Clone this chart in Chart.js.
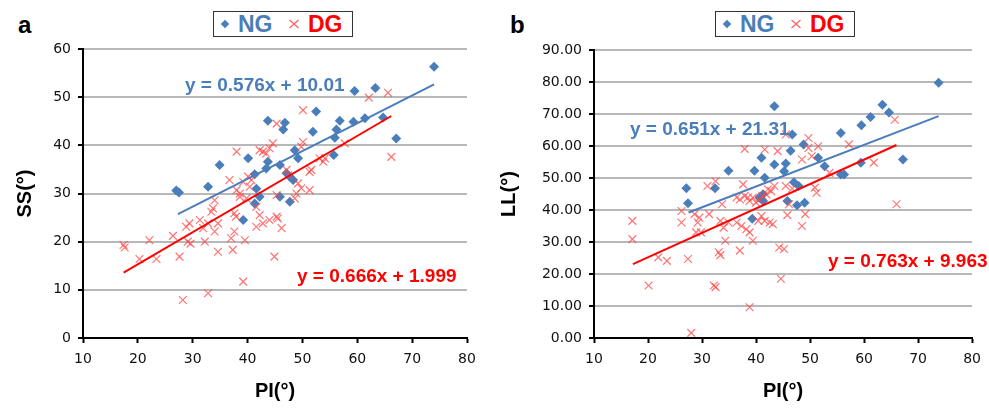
<!DOCTYPE html>
<html>
<head>
<meta charset="utf-8">
<script src="https://cdn.jsdelivr.net/npm/chart.js@4.4.1/dist/chart.umd.min.js"></script>
<style>
  body { margin: 0; width: 989px; height: 408px; overflow: hidden; background: #fff; position: relative;
         font-family: "Liberation Sans", Arial, sans-serif; }
  canvas { position: absolute; top: 0; }
  #chart-a { left: 0; }
  #chart-b { left: 489px; }
  .panel { position: absolute; top: 13px; font-size: 24px; line-height: 24px; font-weight: bold; color: #000; }
  .legend { position: absolute; top: 11px; width: 140px; height: 26px; border: 1px solid #333; box-sizing: border-box; }
  .legend span, .legend div, .legend svg { position: absolute; }
  .legend .txt { top: 0; font-size: 23px; line-height: 24px; font-weight: bold; }
  .legend .dia { left: 8px; top: 9px; width: 6px; height: 6px; background: #4a7ebb; transform: rotate(45deg); }
  .legend .xm { left: 74px; top: 7px; }
</style>
</head>
<body>
<div class="panel" style="left:18px">a</div>
<div class="panel" style="left:510px">b</div>

<div class="legend" style="left:213px">
  <div class="dia"></div><span class="txt" style="left:24px;color:#4a7ebb">NG</span>
  <svg class="xm" width="12" height="10"><path d="M1.5 1L10.5 9M10.5 1L1.5 9" stroke="rgba(255,70,70,0.85)" stroke-width="1.3"/></svg>
  <span class="txt" style="left:94px;color:#ff0000">DG</span>
</div>
<div class="legend" style="left:715px">
  <div class="dia"></div><span class="txt" style="left:24px;color:#4a7ebb">NG</span>
  <svg class="xm" width="12" height="10"><path d="M1.5 1L10.5 9M10.5 1L1.5 9" stroke="rgba(255,70,70,0.85)" stroke-width="1.3"/></svg>
  <span class="txt" style="left:94px;color:#ff0000">DG</span>
</div>

<canvas id="chart-a" width="494" height="408"></canvas>
<canvas id="chart-b" width="500" height="408"></canvas>

<script>
// panel a: PI vs SS
const NG_A = [
  [27.0,30.6],[27.5,30.2],[32.8,31.4],[34.9,35.9],[39.2,24.5],[40.1,37.3],[41.3,34.0],[41.3,27.9],
  [41.6,31.0],[42.2,29.3],[43.4,35.2],[43.7,45.1],[43.7,36.6],[45.9,35.9],[45.9,29.3],[46.5,43.3],
  [46.8,44.7],[47.1,34.2],[47.7,33.5],[47.7,28.3],[48.3,32.8],[48.6,39.0],[49.2,37.3],[51.9,42.8],
  [52.5,47.0],[55.7,38.0],[55.9,41.6],[56.2,43.3],[56.8,45.1],[59.3,44.9],[59.5,51.3],[61.4,45.6],
  [63.3,51.9],[64.7,45.8],[67.1,41.4],[74.0,56.3]
];
const DG_A = [
  [17.4,19.3],[17.6,18.8],[20.3,16.4],[22.1,20.3],[23.4,16.4],[26.4,21.2],[27.6,16.9],[28.2,7.9],
  [28.8,23.1],[29.4,23.8],[29.1,20.0],[29.6,19.6],[31.3,24.5],[31.9,22.8],[32.2,20.0],[32.8,23.8],
  [32.8,9.3],[33.4,26.2],[33.7,26.9],[34.0,28.6],[34.0,22.1],[34.6,17.9],[34.6,23.8],[36.7,32.8],
  [37.0,20.7],[37.3,18.3],[37.6,22.1],[37.6,25.9],[37.9,25.2],[38.0,38.7],[38.0,30.7],[38.6,30.0],
  [38.6,29.3],[39.2,11.7],[39.5,20.3],[39.2,32.4],[39.8,29.0],[40.1,33.5],[40.4,31.4],[40.7,32.8],
  [41.6,27.2],[42.2,25.5],[41.6,23.1],[42.8,23.8],[44.0,24.5],[45.5,24.8],[42.2,39.0],[42.8,38.7],
  [43.4,38.3],[44.0,39.4],[44.6,40.4],[45.3,44.5],[44.9,16.9],[45.3,29.7],[45.3,25.2],[46.2,22.8],
  [47.1,34.9],[47.4,33.8],[48.6,29.0],[48.9,30.0],[49.2,32.1],[49.8,31.1],[50.1,47.3],[50.1,40.7],
  [49.8,39.7],[51.3,30.7],[51.3,34.5],[51.6,34.9],[53.1,37.3],[53.8,36.6],[54.1,37.3],[57.7,40.4],
  [62.1,49.9],[65.6,50.9],[66.2,37.6]
];
const FIT_A_NG = [0.576, 10.01];
const FIT_A_DG = [0.666, 1.999];
const SPAN_A_NG = [27.3, 74];
const SPAN_A_DG = [17.4, 66.2];

// panel b: PI vs LL
const NG_B = [
  [27.1,46.8],[27.4,42.1],[32.4,46.8],[34.9,52.3],[39.3,37.3],[39.7,52.3],[40.6,43.9],[41.0,56.3],
  [41.3,42.8],[41.6,50.1],[41.3,44.9],[43.4,72.4],[43.4,54.2],[45.2,52.1],[45.5,54.5],[45.8,42.8],
  [46.4,58.5],[46.7,63.6],[47.0,48.7],[47.6,41.5],[47.9,47.5],[48.8,60.5],[49.0,42.3],[51.5,56.3],
  [52.7,53.7],[55.7,64.1],[55.7,51.1],[56.3,51.1],[59.4,54.8],[59.5,66.5],[61.2,69.1],[63.4,72.9],
  [64.6,70.5],[67.2,55.8],[73.8,79.8]
];
const DG_B = [
  [17.1,36.6],[17.1,30.9],[20.1,16.4],[21.9,25.2],[23.5,24.1],[26.2,39.7],[26.2,36.1],[27.4,24.7],
  [28.0,1.6],[28.6,38.7],[29.2,36.1],[29.8,33.0],[29.5,37.6],[28.9,33.0],[31.0,47.5],[31.3,38.7],
  [32.2,16.4],[32.5,15.9],[32.5,49.0],[33.1,26.8],[33.4,25.9],[33.4,36.6],[33.7,41.8],[34.0,34.5],
  [34.3,30.4],[34.9,36.1],[36.4,36.1],[36.4,43.9],[37.0,27.3],[37.0,43.3],[37.3,35.0],[37.6,48.0],
  [37.9,59.1],[37.9,44.4],[38.2,34.0],[38.5,43.9],[38.8,42.8],[38.8,33.0],[38.8,9.6],[39.4,30.4],
  [39.4,43.9],[40.0,42.3],[40.4,36.6],[40.6,43.3],[41.0,38.1],[41.2,44.4],[41.6,58.9],[41.6,36.6],
  [41.9,44.9],[42.2,46.5],[42.5,36.1],[42.8,45.9],[43.1,35.6],[43.4,47.5],[44.0,58.4],[44.3,28.3],
  [44.6,18.5],[45.2,27.8],[45.5,63.6],[45.5,47.5],[45.8,38.4],[46.1,41.8],[46.7,46.7],[48.5,35.0],
  [48.5,55.8],[49.1,38.7],[49.7,62.5],[49.7,59.4],[50.3,56.8],[50.9,47.0],[51.2,45.4],[51.5,59.9],
  [53.6,51.6],[57.2,60.5],[61.8,54.8],[65.7,68.2],[66.0,41.8]
];
const FIT_B_NG = [0.651, 21.31];
const FIT_B_DG = [0.763, 9.963];
const SPAN_B_NG = [27.5, 73.8];
const SPAN_B_DG = [17.2, 66];

const BLUE = '#4a7ebb';
const RED = '#ff0000';
const FONT = '"Liberation Sans", Arial, sans-serif';

function pts(arr) { return arr.map(p => ({ x: p[0], y: p[1] })); }
function fitLine(fit, span) { return span.map(x => ({ x: x, y: fit[0] * x + fit[1] })); }
function eqText(fit) { return `y = ${fit[0]}x + ${fit[1]}`; }

function makeChart(id, o) {
  const labels = {
    id: 'eqLabels',
    afterDatasetsDraw(chart) {
      const ctx = chart.ctx;
      ctx.save();
      ctx.font = 'bold 19px ' + FONT;
      ctx.textBaseline = 'middle';
      o.eqs.forEach(e => { ctx.fillStyle = e.color; ctx.fillText(e.text, e.x, e.y); });
      ctx.restore();
    }
  };
  return new Chart(document.getElementById(id), {
    type: 'scatter',
    data: {
      datasets: [
        { data: fitLine(o.fitNG, o.spanNG), showLine: true, borderColor: BLUE, borderWidth: 2, pointRadius: 0, order: 0 },
        { data: fitLine(o.fitDG, o.spanDG), showLine: true, borderColor: RED, borderWidth: 2, pointRadius: 0, order: 0 },
        { data: pts(o.ng), pointStyle: 'rectRot', pointRadius: 5, backgroundColor: BLUE, borderWidth: 0, order: 2 },
        { data: pts(o.dg), pointStyle: 'crossRot', pointRadius: 5.5, borderColor: 'rgba(255,70,70,0.75)', borderWidth: 1.2, order: 1 }
      ]
    },
    options: {
      responsive: false,
      animation: false,
      layout: { padding: o.padding },
      plugins: { legend: { display: false }, tooltip: { enabled: false } },
      scales: {
        x: {
          min: 10, max: 80,
          ticks: { stepSize: 10, color: '#111', padding: 8, font: { family: 'DejaVu Sans', size: 14 } },
          grid: { drawOnChartArea: false, drawTicks: true, tickLength: 5, tickWidth: 2, tickColor: '#000' },
          border: { color: '#000', width: 2 },
          title: { display: true, text: 'PI(°)', color: '#000', font: { family: FONT, size: 20, weight: 'bold' }, padding: { top: 0, bottom: 5 } },
          afterFit(s) { s.height = 70; }
        },
        y: {
          min: 0, max: o.yMax,
          ticks: { stepSize: 10, color: '#111', padding: 7, font: { family: 'DejaVu Sans', size: 14 }, callback: o.yFmt },
          grid: { color: '#b8b8b8', lineWidth: 2, tickLength: 5, tickWidth: 2, tickColor: '#000' },
          border: { color: '#000', width: 2 },
          title: { display: true, text: o.yTitle, color: '#000', font: { family: FONT, size: 20, weight: 'bold' }, padding: { top: o.yTitlePad, bottom: 0 } },
          afterFit(s) { s.width = o.yWidth; }
        }
      }
    },
    plugins: [labels]
  });
}

makeChart('chart-a', {
  ng: NG_A, dg: DG_A, fitNG: FIT_A_NG, fitDG: FIT_A_DG, spanNG: SPAN_A_NG, spanDG: SPAN_A_DG,
  yMax: 60, yTitle: 'SS(°)', yTitlePad: 13, yWidth: 83, yFmt: v => v,
  padding: { left: 0, top: 49, right: 27, bottom: 0 },
  eqs: [
    { text: eqText(FIT_A_NG), color: BLUE, x: 185, y: 86 },
    { text: eqText(FIT_A_DG), color: RED, x: 297, y: 277 }
  ]
});

makeChart('chart-b', {
  ng: NG_B, dg: DG_B, fitNG: FIT_B_NG, fitDG: FIT_B_DG, spanNG: SPAN_B_NG, spanDG: SPAN_B_DG,
  yMax: 90, yTitle: 'LL(°)', yTitlePad: 8, yWidth: 105, yFmt: v => Number(v).toFixed(2),
  padding: { left: 0, top: 50, right: 8, bottom: 0 },
  eqs: [
    { text: eqText(FIT_B_NG), color: BLUE, x: 141, y: 130 },
    { text: eqText(FIT_B_DG), color: RED, x: 339, y: 262 }
  ]
});
</script>
</body>
</html>
